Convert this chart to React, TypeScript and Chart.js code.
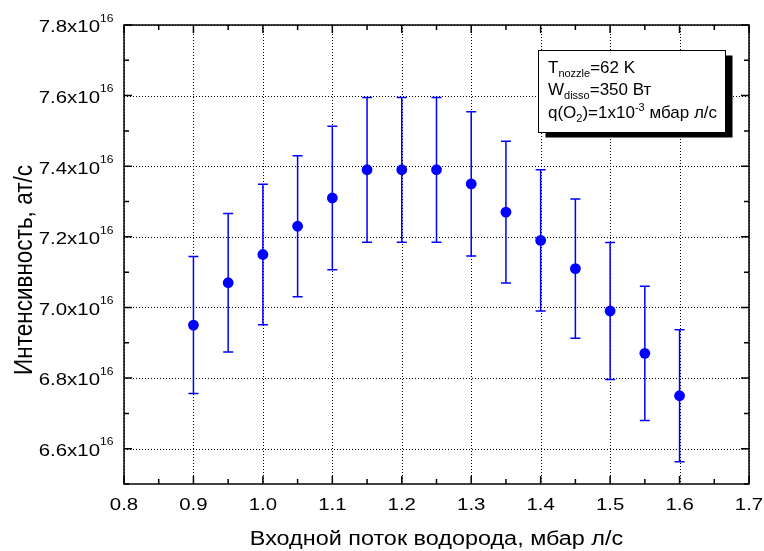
import { useEffect, useRef } from 'react';
import { Chart, registerables } from 'chart.js';

Chart.register(...registerables);

// ---- data ----
const flowRates = [0.9, 0.95, 1.0, 1.05, 1.1, 1.15, 1.2, 1.25, 1.3, 1.35, 1.4, 1.45, 1.5, 1.55, 1.6];
// intensity mantissa, x10^16 at/s
const intensity = [6.95, 7.07, 7.15, 7.23, 7.31, 7.39, 7.39, 7.39, 7.35, 7.27, 7.19, 7.11, 6.99, 6.87, 6.75];
const intensityErr = [0.194, 0.196, 0.199, 0.2, 0.203, 0.205, 0.205, 0.205, 0.204, 0.201, 0.2, 0.197, 0.194, 0.19, 0.187];
const yExponent = '16';
const xMin = 0.8;
const xMax = 1.7;
const yMin = 6.5;
const yMax = 7.8;
const xTitle = 'Входной поток водорода, мбар л/с';
const yTitle = 'Интенсивность, ат/с';
type Seg = { t: string; sub?: boolean; sup?: boolean };
const legendLines: Seg[][] = [
  [{ t: 'T' }, { t: 'nozzle', sub: true }, { t: '=62 K' }],
  [{ t: 'W' }, { t: 'disso', sub: true }, { t: '=350 Вт' }],
  [{ t: 'q(O' }, { t: '2', sub: true }, { t: ')=1x10' }, { t: '-3', sup: true }, { t: ' мбар л/с' }],
];

const FONT = '"Liberation Sans", Arial, sans-serif';
const BLUE = '#0000ff';
const SX = 1.2; // horizontal stretch of axis texts

const isMajorX = (v: number) => Math.round(v * 100) % 10 === 0;
const isMajorY = (v: number) => Math.round(v * 100) % 20 === 0;

function stretchedText(ctx: any, text: string, x: number, y: number, align: string, sx: number) {
  ctx.save();
  ctx.translate(x, y);
  ctx.scale(sx, 1);
  ctx.textAlign = align;
  ctx.fillText(text, 0, 0);
  ctx.restore();
}

const decorPlugin = {
  id: 'decor',
  beforeDatasetsDraw(chart: any) {
    const { ctx, chartArea: a, scales } = chart;
    const x = scales.x;
    const y = scales.y;
    ctx.save();
    // dotted grid
    ctx.strokeStyle = '#000';
    ctx.lineWidth = 1;
    ctx.setLineDash([1, 2]);
    x.ticks.forEach((t: any) => {
      if (!isMajorX(t.value)) return;
      const px = Math.round(x.getPixelForValue(t.value)) + 0.5;
      ctx.beginPath();
      ctx.moveTo(px, a.top);
      ctx.lineTo(px, a.bottom);
      ctx.stroke();
    });
    y.ticks.forEach((t: any) => {
      if (!isMajorY(t.value)) return;
      const py = Math.round(y.getPixelForValue(t.value)) + 0.5;
      ctx.beginPath();
      ctx.moveTo(a.left, py);
      ctx.lineTo(a.right, py);
      ctx.stroke();
    });
    ctx.setLineDash([]);
    // error bars
    ctx.strokeStyle = BLUE;
    ctx.lineWidth = 1.5;
    flowRates.forEach((fx, i) => {
      const px = x.getPixelForValue(fx);
      const top = y.getPixelForValue(intensity[i] + intensityErr[i]);
      const bot = y.getPixelForValue(intensity[i] - intensityErr[i]);
      ctx.beginPath();
      ctx.moveTo(px, top);
      ctx.lineTo(px, bot);
      ctx.moveTo(px - 5, top);
      ctx.lineTo(px + 5, top);
      ctx.moveTo(px - 5, bot);
      ctx.lineTo(px + 5, bot);
      ctx.stroke();
    });
    ctx.restore();
  },
  afterDatasetsDraw(chart: any) {
    const { ctx, chartArea: a, scales } = chart;
    const x = scales.x;
    const y = scales.y;
    ctx.save();
    // frame
    ctx.strokeStyle = '#000';
    ctx.lineWidth = 1.5;
    ctx.strokeRect(a.left, a.top, a.right - a.left, a.bottom - a.top);
    // inward ticks
    x.ticks.forEach((t: any) => {
      const px = x.getPixelForValue(t.value);
      const len = isMajorX(t.value) ? 8 : 5;
      ctx.beginPath();
      ctx.moveTo(px, a.bottom);
      ctx.lineTo(px, a.bottom - len);
      ctx.moveTo(px, a.top);
      ctx.lineTo(px, a.top + len);
      ctx.stroke();
    });
    y.ticks.forEach((t: any) => {
      const py = y.getPixelForValue(t.value);
      const len = isMajorY(t.value) ? 8 : 5;
      ctx.beginPath();
      ctx.moveTo(a.left, py);
      ctx.lineTo(a.left + len, py);
      ctx.moveTo(a.right, py);
      ctx.lineTo(a.right - len, py);
      ctx.stroke();
    });
    ctx.fillStyle = '#000';
    ctx.textBaseline = 'alphabetic';
    // x tick labels
    ctx.font = `17px ${FONT}`;
    x.ticks.forEach((t: any) => {
      if (!isMajorX(t.value)) return;
      const px = x.getPixelForValue(t.value);
      stretchedText(ctx, Number(t.value).toFixed(1), px, a.bottom + 26, 'center', SX);
    });
    // y tick labels with exponent superscripts
    y.ticks.forEach((t: any) => {
      if (!isMajorY(t.value) || t.value < yMin + 0.05) return;
      const py = y.getPixelForValue(t.value);
      ctx.font = `17px ${FONT}`;
      stretchedText(ctx, `${Number(t.value).toFixed(1)}x10`, a.left - 24, py + 7.3, 'right', SX);
      ctx.font = `11px ${FONT}`;
      stretchedText(ctx, yExponent, a.left - 24, py - 3.3, 'left', 1.1);
    });
    // x title
    ctx.font = `19.5px ${FONT}`;
    stretchedText(ctx, xTitle, (a.left + a.right) / 2, 545, 'center', SX);
    // y title (rotated)
    ctx.save();
    ctx.font = `22.5px ${FONT}`;
    ctx.translate(31.5, 270);
    ctx.scale(1.14, 1);
    ctx.rotate(-Math.PI / 2);
    ctx.textAlign = 'center';
    ctx.fillText(yTitle, 0, 0);
    ctx.restore();
    // legend box
    const bx = 538.5, by = 50.5, bw = 187, bh = 82;
    ctx.fillStyle = '#000';
    ctx.fillRect(bx + 7, by + 5, bw, bh);
    ctx.fillStyle = '#fff';
    ctx.fillRect(bx, by, bw, bh);
    ctx.lineWidth = 1;
    ctx.strokeStyle = '#000';
    ctx.strokeRect(bx, by, bw, bh);
    ctx.fillStyle = '#000';
    ctx.textAlign = 'left';
    const baselines = [73, 95, 118];
    legendLines.forEach((line, li) => {
      let cx = 548;
      line.forEach((s) => {
        const small = s.sub || s.sup;
        ctx.font = `${small ? 11 : 17}px ${FONT}`;
        const dy = s.sub ? 4 : s.sup ? -7 : 0;
        ctx.fillText(s.t, cx, baselines[li] + dy);
        cx += ctx.measureText(s.t).width;
      });
    });
    ctx.restore();
  },
};

export default function App() {
  const ref = useRef<HTMLCanvasElement | null>(null);
  useEffect(() => {
    if (!ref.current) return;
    const chart = new Chart(ref.current, {
      type: 'scatter',
      data: {
        datasets: [
          {
            data: flowRates.map((fx, i) => ({ x: fx, y: intensity[i] })),
            backgroundColor: BLUE,
            borderColor: BLUE,
            pointRadius: 5.4,
            borderWidth: 0,
          },
        ],
      },
      options: {
        responsive: false,
        animation: false,
        layout: { padding: { top: 25, right: 15, left: 0, bottom: 0 } },
        plugins: { legend: { display: false }, tooltip: { enabled: false } },
        scales: {
          x: {
            type: 'linear',
            min: xMin,
            max: xMax,
            ticks: { stepSize: 0.05, display: false, autoSkip: false },
            grid: { display: false, drawTicks: false },
            border: { display: false },
            afterFit: (s: any) => {
              s.height = 67;
            },
          },
          y: {
            type: 'linear',
            min: yMin,
            max: yMax,
            ticks: { stepSize: 0.1, display: false, autoSkip: false },
            grid: { display: false, drawTicks: false },
            border: { display: false },
            afterFit: (s: any) => {
              s.width = 124;
            },
          },
        },
      },
      plugins: [decorPlugin],
    });
    return () => chart.destroy();
  }, []);
  return (
    <div style={{ position: 'fixed', left: 0, top: 0, width: 764, height: 551, background: '#fff' }}>
      <canvas ref={ref} width={764} height={551} style={{ display: 'block' }} />
    </div>
  );
}
